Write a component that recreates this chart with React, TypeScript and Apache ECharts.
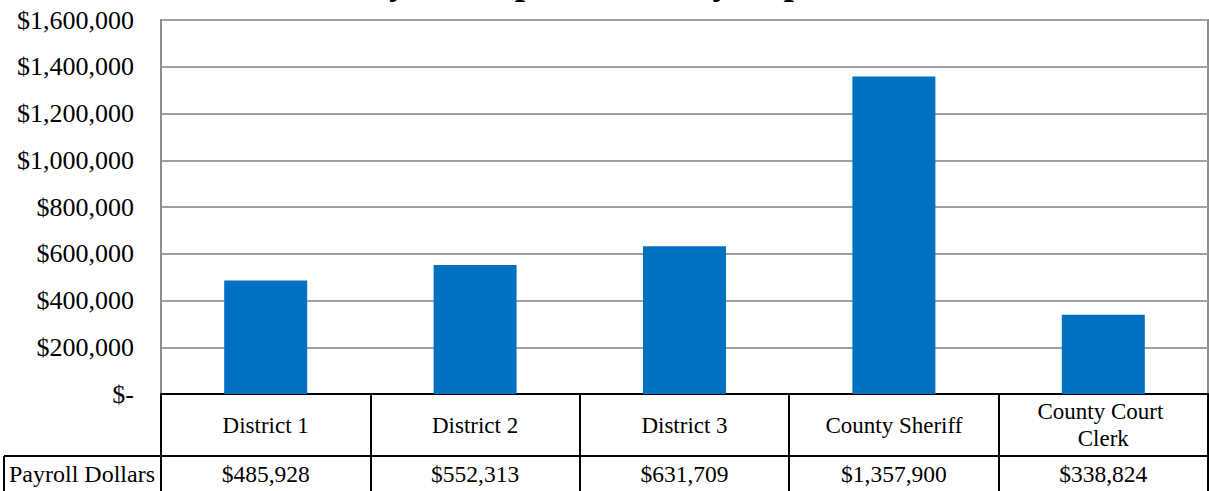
import React, { useEffect, useRef } from "react";
import * as echarts from "echarts";

// Payroll by department
const chartTitle = "Payroll Expenditures by Department";
const seriesName = "Payroll Dollars";
const departments = ["District 1", "District 2", "District 3", "County Sheriff", "County Court Clerk"];
const payroll = [485928, 552313, 631709, 1357900, 338824];
const yTicks = [0, 200000, 400000, 600000, 800000, 1000000, 1200000, 1400000, 1600000];

const FONT = '"Liberation Serif", "Times New Roman", serif';
const BAR_BLUE = "#0070C0";

const money = (v: number) => (v === 0 ? "$-" : "$" + v.toLocaleString("en-US"));

export default function App() {
  const ref = useRef<HTMLDivElement>(null);

  useEffect(() => {
    if (!ref.current) return;
    const chart = echarts.init(ref.current, undefined, { renderer: "svg" });

    const W = 1209;
    const gridLeft = 161;
    const gridTop = 20;
    const gridBottom = 97; // axis line sits at y = 394
    const axisY = 491 - gridBottom;
    const rowY = axisY + 62;

    chart.setOption({
      animation: false,
      backgroundColor: "#ffffff",
      textStyle: { fontFamily: FONT },
      grid: {
        left: gridLeft,
        right: 1,
        top: gridTop,
        bottom: gridBottom,
        show: true,
        borderColor: "#8c8c8c",
        borderWidth: 2,
      },
      yAxis: {
        type: "value",
        min: yTicks[0],
        max: yTicks[yTicks.length - 1],
        interval: yTicks[1] - yTicks[0],
        axisLine: { show: true, lineStyle: { color: "#8c8c8c", width: 2 } },
        axisTick: { show: false },
        splitLine: { lineStyle: { color: "#a0a0a0", width: 2 } },
        axisLabel: {
          margin: 27,
          color: "#000",
          fontFamily: FONT,
          fontSize: 26,
          formatter: (v: number) => money(v),
        },
      },
      xAxis: [
        {
          type: "category",
          data: departments,
          position: "bottom",
          axisLine: { show: true, lineStyle: { color: "#000", width: 2 } },
          axisTick: {
            show: true,
            interval: 0,
            alignWithLabel: false,
            length: gridBottom,
            lineStyle: { color: "#000", width: 2 },
          },
          axisLabel: {
            interval: 0,
            margin: 31,
            verticalAlign: "middle",
            color: "#000",
            fontFamily: FONT,
            fontSize: 23,
            lineHeight: 27,
            width: 175,
            overflow: "break",
          },
        },
        {
          type: "category",
          data: departments,
          position: "bottom",
          offset: 62,
          axisLine: { show: true, lineStyle: { color: "#000", width: 2 } },
          axisTick: { show: false },
          axisLabel: {
            interval: 0,
            margin: 18,
            verticalAlign: "middle",
            color: "#000",
            fontFamily: FONT,
            fontSize: 23.5,
            formatter: (_v: string, i: number) => money(payroll[i]),
          },
        },
      ],
      series: [
        {
          name: seriesName,
          type: "bar",
          xAxisIndex: 0,
          data: payroll,
          barWidth: 83,
          itemStyle: { color: BAR_BLUE },
        },
      ],
      graphic: [
        {
          type: "text",
          x: 348,
          y: -19,
          silent: true,
          style: {
            text: chartTitle,
            font: `bold 37px ${FONT}`,
            fill: "#000",
            verticalAlign: "middle",
          },
        },
        {
          type: "line",
          silent: true,
          shape: { x1: gridLeft, y1: gridTop, x2: W - 1, y2: gridTop },
          style: { stroke: "#595959", lineWidth: 2 },
        },
        // legend cell of the data table
        {
          type: "line",
          silent: true,
          shape: { x1: 4, y1: rowY, x2: gridLeft + 1, y2: rowY },
          style: { stroke: "#000", lineWidth: 2 },
        },
        {
          type: "line",
          silent: true,
          shape: { x1: 4, y1: rowY, x2: 4, y2: 491 },
          style: { stroke: "#000", lineWidth: 2 },
        },
        {
          type: "text",
          x: 9,
          y: rowY + 18,
          silent: true,
          style: {
            text: seriesName,
            font: `24px ${FONT}`,
            fill: "#000",
            verticalAlign: "middle",
          },
        },
      ],
    });

    return () => chart.dispose();
  }, []);

  return (
    <div
      ref={ref}
      style={{ position: "fixed", left: 0, top: 0, width: 1209, height: 491, background: "#fff" }}
    />
  );
}
